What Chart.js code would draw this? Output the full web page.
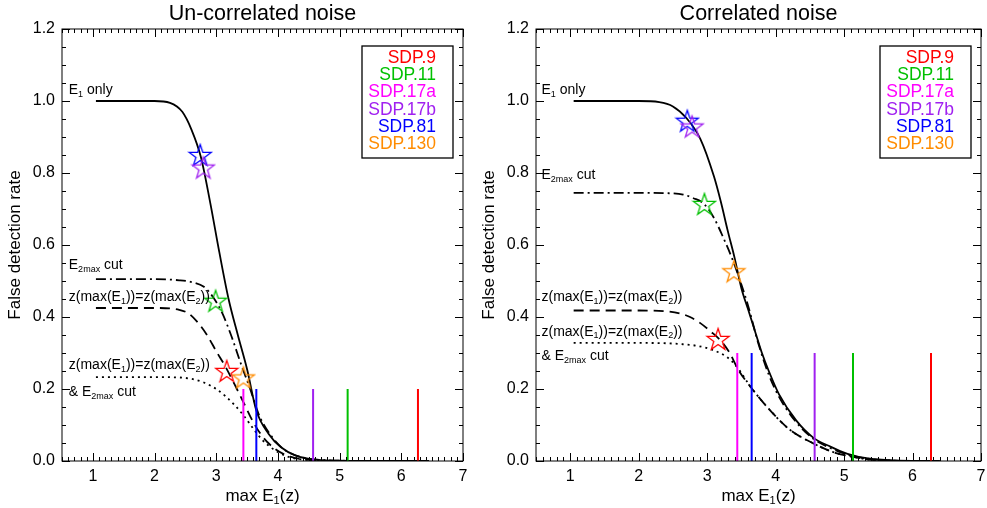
<!DOCTYPE html>
<html>
<head>
<meta charset="utf-8">
<script src="https://cdn.jsdelivr.net/npm/chart.js@4.4.0/dist/chart.umd.min.js"></script>
<style>
  html, body { margin: 0; padding: 0; background: #fff; overflow: hidden; }
  #wrap { position: relative; width: 987px; height: 508px; overflow: hidden; }
  #wrap canvas { position: absolute; top: 0; }
</style>
</head>
<body>
<div id="wrap">
  <canvas id="uncorrChart" width="475" height="508" style="left:0"></canvas>
  <canvas id="corrChart" width="523" height="508" style="left:470px"></canvas>
</div>
<script>
// ---- data ----
const xTicks = [1, 2, 3, 4, 5, 6, 7];
const yTicks = [0, 0.2, 0.4, 0.6, 0.8, 1.0, 1.2];

const objects   = ['SDP.9', 'SDP.11', 'SDP.17a', 'SDP.17b', 'SDP.81', 'SDP.130'];
const objColors = ['#ff0000', '#00c000', '#ff00ff', '#a020f0', '#0000ff', '#ff8c00'];
const objMaxE1  = [6.27, 5.13, 3.44, 4.57, 3.65, null];   // vertical marks

// un-correlated noise
const ucE1X   = [1.05, 1.5, 2.0, 2.25, 2.45, 2.6, 2.75, 2.9, 3.05, 3.2, 3.35, 3.5, 3.65, 3.85, 4.05, 4.3, 4.6, 5.0, 5.8, 6.45];
const ucE1Y   = [1.0, 1.0, 1.0, 0.995, 0.97, 0.92, 0.845, 0.72, 0.58, 0.45, 0.35, 0.255, 0.14, 0.075, 0.038, 0.014, 0.004, 0.001, 0, 0];
const ucCutX  = [1.05, 1.5, 2.0, 2.4, 2.6, 2.8, 2.95, 3.1, 3.25, 3.4, 3.55, 3.7, 3.9, 4.1, 4.4, 4.8, 5.5];
const ucCutY  = [0.505, 0.505, 0.505, 0.502, 0.497, 0.484, 0.455, 0.41, 0.345, 0.27, 0.2, 0.125, 0.068, 0.032, 0.01, 0.002, 0];
const ucZzX   = [1.05, 1.5, 2.0, 2.4, 2.55, 2.7, 2.85, 3.0, 3.15, 3.3, 3.45, 3.6, 3.75, 3.95, 4.2, 4.5, 5.0];
const ucZzY   = [0.425, 0.425, 0.425, 0.42, 0.41, 0.385, 0.35, 0.305, 0.262, 0.212, 0.16, 0.108, 0.068, 0.034, 0.012, 0.003, 0];
const ucBothX = [1.05, 1.5, 2.0, 2.4, 2.6, 2.8, 3.0, 3.15, 3.3, 3.45, 3.6, 3.75, 3.95, 4.2, 4.5, 5.0];
const ucBothY = [0.233, 0.233, 0.233, 0.232, 0.228, 0.218, 0.2, 0.18, 0.155, 0.125, 0.09, 0.058, 0.03, 0.01, 0.003, 0];
const ucStarX = [3.17, 2.99, null, 2.79, 2.74, 3.44];
const ucStarY = [0.25, 0.445, null, 0.815, 0.85, 0.232];

// correlated noise
const cE1X   = [1.05, 1.5, 2.0, 2.3, 2.5, 2.7, 2.9, 3.1, 3.2, 3.3, 3.4, 3.5, 3.6, 3.7, 3.8, 3.9, 4.05, 4.3, 4.55, 4.8, 5.05, 5.35, 5.8, 6.4];
const cE1Y   = [1.0, 1.0, 1.0, 0.997, 0.985, 0.952, 0.895, 0.79, 0.72, 0.64, 0.565, 0.48, 0.42, 0.36, 0.3, 0.25, 0.185, 0.113, 0.065, 0.04, 0.02, 0.007, 0.001, 0];
const cCutX  = [1.05, 1.5, 2.0, 2.4, 2.65, 2.8, 2.95, 3.1, 3.23, 3.38, 3.5, 3.6, 3.75, 3.9, 4.05, 4.3, 4.55, 4.8, 5.05, 5.4, 5.9];
const cCutY  = [0.745, 0.745, 0.745, 0.744, 0.74, 0.73, 0.715, 0.675, 0.623, 0.555, 0.49, 0.43, 0.325, 0.24, 0.178, 0.108, 0.062, 0.036, 0.018, 0.005, 0];
const cZzX   = [1.05, 1.5, 2.0, 2.4, 2.6, 2.75, 2.9, 3.05, 3.2, 3.33, 3.45, 3.65, 3.9, 4.2, 4.55, 4.9, 5.15, 5.4, 5.8];
const cZzY   = [0.418, 0.418, 0.418, 0.416, 0.41, 0.4, 0.383, 0.36, 0.334, 0.3, 0.255, 0.202, 0.145, 0.088, 0.049, 0.021, 0.011, 0.003, 0];
const cBothX = [1.05, 1.5, 2.0, 2.4, 2.6, 2.85, 3.1, 3.28, 3.42, 3.65, 3.9, 4.2, 4.55, 4.9, 5.15, 5.4, 5.8];
const cBothY = [0.328, 0.328, 0.328, 0.327, 0.325, 0.32, 0.307, 0.29, 0.265, 0.202, 0.145, 0.088, 0.049, 0.021, 0.011, 0.003, 0];
const cStarX = [3.16, 2.96, null, 2.78, 2.71, 3.39];
const cStarY = [0.339, 0.714, null, 0.929, 0.945, 0.527];

const FONT = '"Liberation Sans", Arial, Helvetica, sans-serif';

// hollow five point star used as point style
function starImage(color) {
  const c = document.createElement('canvas');
  c.width = 26; c.height = 26;
  const g = c.getContext('2d');
  g.strokeStyle = color;
  g.lineWidth = 1.3;
  g.beginPath();
  for (let i = 0; i < 10; i++) {
    const r = i % 2 ? 4.5 : 11.5;
    const a = -Math.PI / 2 + i * Math.PI / 5;
    const px = 13 + r * Math.cos(a), py = 14 + r * Math.sin(a);
    if (i) g.lineTo(px, py); else g.moveTo(px, py);
  }
  g.closePath();
  g.stroke();
  return c;
}

function pts(xs, ys) {
  return xs.map((x, i) => ({ x: x, y: ys[i] }));
}

// text with E_{1} style subscripts
function richText(ctx, str, x, y, size) {
  const parts = str.split(/_\{([^}]*)\}/);
  let cx = x;
  parts.forEach((p, i) => {
    if (!p) return;
    const sub = i % 2 === 1;
    ctx.font = (sub ? Math.round(size * 0.62) : size) + 'px ' + FONT;
    ctx.fillText(p, cx, sub ? y + size * 0.3 : y);
    cx += ctx.measureText(p).width;
  });
  return cx - x;
}

function textWidth(ctx, str, size) {
  const parts = str.split(/_\{([^}]*)\}/);
  let w = 0;
  parts.forEach((p, i) => {
    ctx.font = (i % 2 ? Math.round(size * 0.62) : size) + 'px ' + FONT;
    w += ctx.measureText(p).width;
  });
  return w;
}

// IDL-like frame: inward ticks on all four sides, labels, legend
const decor = {
  id: 'decor',
  afterDatasetsDraw(chart, args, o) {
    const { ctx, chartArea: a, scales: { x, y } } = chart;
    ctx.save();
    ctx.strokeStyle = '#000';
    ctx.lineWidth = 1;
    ctx.strokeRect(a.left, a.top, a.right - a.left, a.bottom - a.top);
    ctx.beginPath();
    for (let k = 5; k <= 70; k++) {
      const px = Math.round(x.getPixelForValue(k / 10)) + 0.5;
      const len = k % 10 === 0 ? 8 : 4;
      ctx.moveTo(px, a.bottom); ctx.lineTo(px, a.bottom - len);
      ctx.moveTo(px, a.top); ctx.lineTo(px, a.top + len);
    }
    for (let k = 0; k <= 24; k++) {
      const py = Math.round(y.getPixelForValue(k * 0.05)) + 0.5;
      const len = k % 4 === 0 ? 8 : 4;
      ctx.moveTo(a.left, py); ctx.lineTo(a.left + len, py);
      ctx.moveTo(a.right, py); ctx.lineTo(a.right - len, py);
    }
    ctx.stroke();

    // axis titles
    ctx.fillStyle = '#000';
    ctx.textBaseline = 'middle';
    const xt = 'max E_{1}(z)';
    richText(ctx, xt, (a.left + a.right) / 2 - textWidth(ctx, xt, 17) / 2, a.bottom + 35, 17);
    ctx.save();
    ctx.translate(a.left - 47, (a.top + a.bottom) / 2);
    ctx.rotate(-Math.PI / 2);
    ctx.textAlign = 'center';
    ctx.font = '17px ' + FONT;
    ctx.fillText('False detection rate', 0, 0);
    ctx.restore();

    // curve labels
    ctx.textAlign = 'left';
    o.notes.forEach(n => {
      richText(ctx, n.text, x.getPixelForValue(n.x), y.getPixelForValue(n.y), 14);
    });

    // legend box
    const bx1 = a.right - 10, bx0 = bx1 - 91, by0 = a.top + 17;
    ctx.lineWidth = 1.3;
    ctx.strokeRect(bx0, by0, 91, 112);
    ctx.textAlign = 'right';
    ctx.font = '17.5px ' + FONT;
    objects.forEach((name, i) => {
      ctx.fillStyle = objColors[i];
      ctx.fillText(name, bx1 - 17, by0 + 12 + i * 17.3);
    });
    ctx.restore();
  }
};

function buildChart(id, title, curves, starX, starY, markTop, leftW, notes) {
  const datasets = [];
  const dashes = [[], [10, 4, 2, 4], [10, 6], [2, 4]];
  curves.forEach((c, i) => {
    datasets.push({
      type: 'line',
      data: pts(c[0], c[1]),
      borderColor: '#000',
      borderWidth: 1.8,
      borderDash: dashes[i],
      pointRadius: 0,
      cubicInterpolationMode: 'monotone',
      fill: false,
      order: 2
    });
  });
  objects.forEach((name, i) => {
    if (objMaxE1[i] !== null) {
      datasets.push({
        type: 'line',
        data: [{ x: objMaxE1[i], y: 0 }, { x: objMaxE1[i], y: markTop }],
        borderColor: objColors[i],
        borderWidth: 2,
        pointRadius: 0,
        fill: false,
        order: 1
      });
    }
  });
  objects.forEach((name, i) => {
    if (starX[i] === null) return;
    datasets.push({
      type: 'scatter',
      data: [{ x: starX[i], y: starY[i] }],
      pointStyle: starImage(objColors[i]),
      pointRadius: 11,
      order: 0
    });
  });

  return new Chart(document.getElementById(id), {
    type: 'scatter',
    data: { datasets: datasets },
    options: {
      responsive: false,
      animation: false,
      events: [],
      layout: { padding: 0 },
      plugins: {
        legend: { display: false },
        tooltip: { enabled: false },
        title: {
          display: true,
          fullSize: false,
          text: title,
          color: '#000',
          font: { family: FONT, size: 21.5, weight: 'normal' },
          padding: { top: 1, bottom: 2.2 }
        },
        decor: { notes: notes }
      },
      scales: {
        x: {
          type: 'linear',
          min: 0.5, max: 7,
          grid: { display: false, drawTicks: false },
          border: { display: false },
          afterBuildTicks: s => { s.ticks = xTicks.map(v => ({ value: v })); },
          afterFit: s => { s.height = 47; },
          ticks: {
            padding: 6,
            color: '#000',
            font: { family: FONT, size: 16 },
            callback: v => String(v)
          }
        },
        y: {
          type: 'linear',
          min: 0, max: 1.2,
          grid: { display: false, drawTicks: false },
          border: { display: false },
          afterBuildTicks: s => { s.ticks = yTicks.map(v => ({ value: v })); },
          afterFit: s => { s.width = leftW; },
          ticks: {
            padding: 7,
            color: '#000',
            font: { family: FONT, size: 16 },
            callback: v => v.toFixed(1)
          }
        }
      }
    },
    plugins: [decor]
  });
}

buildChart('uncorrChart', 'Un-correlated noise',
  [[ucE1X, ucE1Y], [ucCutX, ucCutY], [ucZzX, ucZzY], [ucBothX, ucBothY]],
  ucStarX, ucStarY, 0.2, 62,
  [
    { text: 'E_{1} only', x: 0.61, y: 1.03 },
    { text: 'E_{2max} cut', x: 0.61, y: 0.543 },
    { text: 'z(max(E_{1}))=z(max(E_{2}))', x: 0.61, y: 0.455 },
    { text: 'z(max(E_{1}))=z(max(E_{2}))', x: 0.61, y: 0.265 },
    { text: '& E_{2max} cut', x: 0.61, y: 0.191 }
  ]);

buildChart('corrChart', 'Correlated noise',
  [[cE1X, cE1Y], [cCutX, cCutY], [cZzX, cZzY], [cBothX, cBothY]],
  cStarX, cStarY, 0.3, 66,
  [
    { text: 'E_{1} only', x: 0.58, y: 1.03 },
    { text: 'E_{2max} cut', x: 0.58, y: 0.794 },
    { text: 'z(max(E_{1}))=z(max(E_{2}))', x: 0.58, y: 0.456 },
    { text: 'z(max(E_{1}))=z(max(E_{2}))', x: 0.58, y: 0.359 },
    { text: '& E_{2max} cut', x: 0.58, y: 0.29 }
  ]);
</script>
</body>
</html>
